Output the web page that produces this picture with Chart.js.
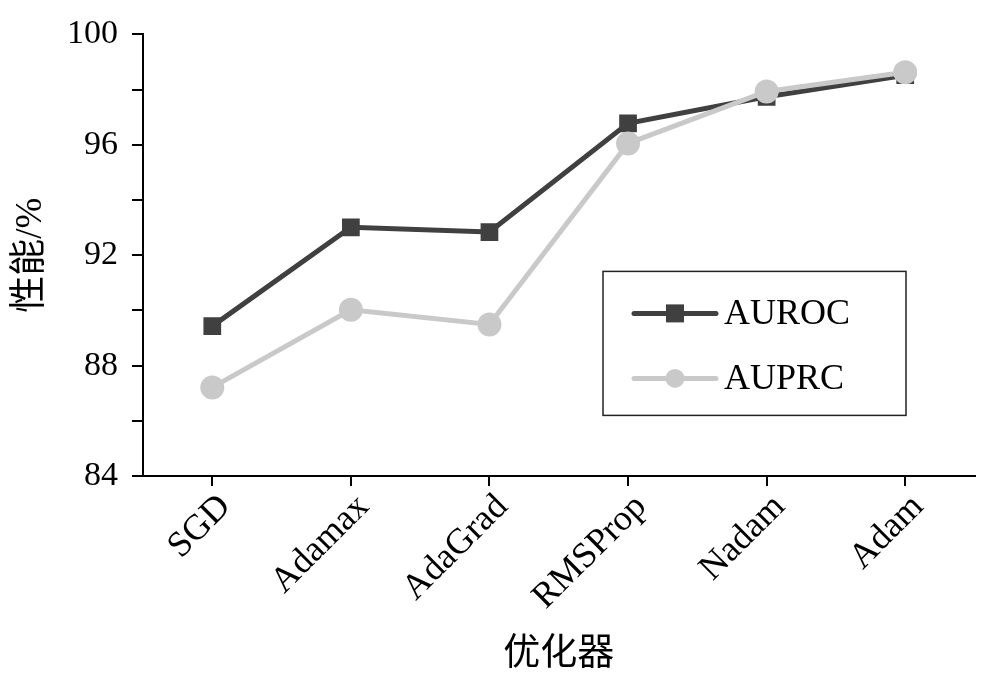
<!DOCTYPE html>
<html>
<head>
<meta charset="utf-8">
<script src="https://cdn.jsdelivr.net/npm/chart.js@4"></script>
<style>
  html, body { margin: 0; padding: 0; background: #fff; }
  #wrap { width: 989px; height: 685px; }
</style>
</head>
<body>
<div id="wrap"><canvas id="myChart" width="989" height="685"></canvas></div>
<script>
const optimizers = ['SGD', 'Adamax', 'AdaGrad', 'RMSProp', 'Nadam', 'Adam'];
const auroc = [89.43, 93.01, 92.84, 96.78, 97.74, 98.52];
const auprc = [87.21, 90.02, 89.49, 96.05, 97.93, 98.63];
const yTicks = [84, 88, 92, 96, 100];

const serif = "'Liberation Serif', 'Times New Roman', 'Noto Sans CJK SC', serif";

// legend drawn as a framed box inside the plot, like the original
const boxLegend = {
  id: 'boxLegend',
  afterDraw(chart) {
    const ctx = chart.ctx;
    const a = chart.chartArea;
    const x0 = a.left + 460, y0 = a.top + 237, w = 303, h = 144;
    ctx.save();
    ctx.strokeStyle = '#222';
    ctx.lineWidth = 1.5;
    ctx.strokeRect(x0, y0, w, h);
    chart.data.datasets.forEach((ds, i) => {
      const cy = y0 + 42 + i * 65;
      ctx.strokeStyle = ds.borderColor;
      ctx.lineWidth = 5;
      ctx.lineCap = 'round';
      ctx.beginPath();
      ctx.moveTo(x0 + 31, cy);
      ctx.lineTo(x0 + 113, cy);
      ctx.stroke();
      ctx.fillStyle = ds.backgroundColor;
      if (ds.pointStyle === 'rect') {
        ctx.fillRect(x0 + 72 - 9, cy - 9, 18, 18);
      } else {
        ctx.beginPath();
        ctx.arc(x0 + 72, cy, 9.5, 0, Math.PI * 2);
        ctx.fill();
      }
      ctx.fillStyle = '#000';
      ctx.font = '36px ' + serif;
      ctx.textBaseline = 'middle';
      ctx.textAlign = 'left';
      ctx.fillText(ds.label, x0 + 121, cy + 1);
    });
    ctx.restore();
  }
};

const data = {
  labels: optimizers,
  datasets: [{
    label: 'AUROC',
    data: auroc,
    borderColor: '#404040',
    backgroundColor: '#404040',
    borderWidth: 5,
    pointStyle: 'rect',
    pointRadius: 9,
    pointHoverRadius: 9,
    order: 1,
  }, {
    label: 'AUPRC',
    data: auprc,
    borderColor: '#c9c9c9',
    backgroundColor: '#c9c9c9',
    borderWidth: 5,
    pointStyle: 'circle',
    pointRadius: 9.5,
    pointHoverRadius: 9.5,
    order: 0,
  }]
};

const config = {
  type: 'line',
  data: data,
  options: {
    responsive: false,
    animation: false,
    layout: { padding: { top: 32, right: 14, bottom: 8, left: 9 } },
    plugins: {
      legend: { display: false },
      tooltip: { enabled: false },
    },
    scales: {
      x: {
        offset: true,
        grid: { display: true, drawOnChartArea: false, drawTicks: true, tickLength: 10, color: '#000', lineWidth: 2 },
        border: { display: true, color: '#000', width: 2 },
        ticks: {
          color: '#000',
          font: { size: 36, family: serif },
          minRotation: 45,
          maxRotation: 45,
          padding: 0,
          labelOffset: 13,
        },
        title: {
          display: true,
          text: '优化器',
          color: '#000',
          font: { size: 37, family: serif },
          padding: 0,
        },
        afterFit: (s) => { s.height = 201; },
      },
      y: {
        min: 84,
        max: 100,
        grid: { display: true, drawOnChartArea: false, drawTicks: true, tickLength: 11, color: '#000', lineWidth: 2 },
        border: { display: true, color: '#000', width: 2 },
        ticks: {
          stepSize: 2,
          color: '#000',
          font: { size: 34, family: serif },
          padding: 14,
          callback: (v) => yTicks.includes(v) ? String(v) : '',
        },
        title: {
          display: true,
          text: '性能/%',
          color: '#000',
          font: { size: 37, family: serif },
          padding: 0,
        },
        afterFit: (s) => { s.width = 134; },
      }
    }
  },
  plugins: [boxLegend]
};

const myChart = new Chart(document.getElementById('myChart'), config);
</script>
</body>
</html>
